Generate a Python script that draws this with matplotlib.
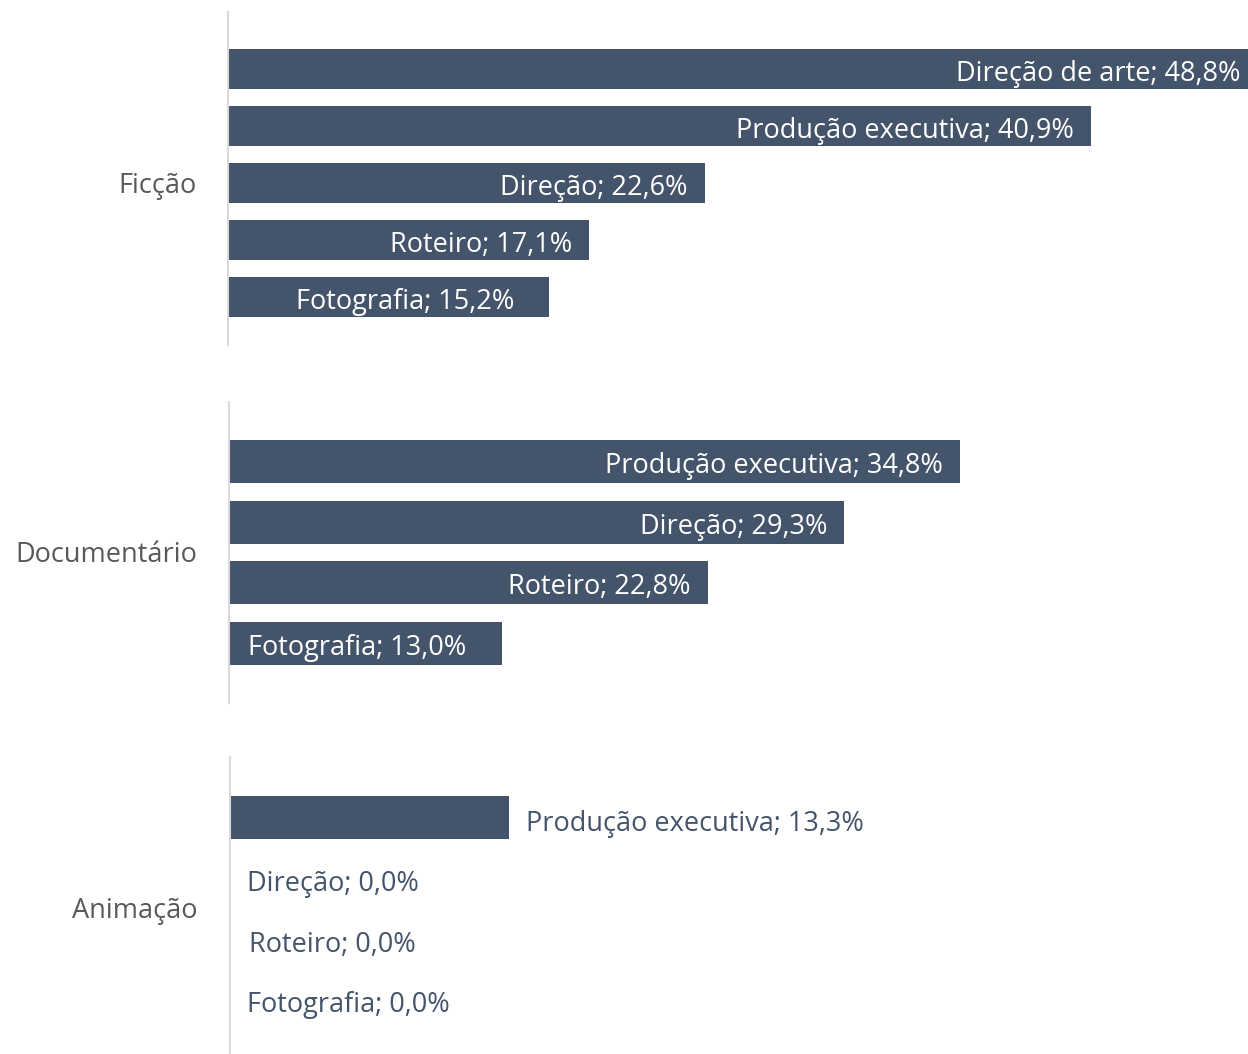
import matplotlib
matplotlib.use("Agg")
import matplotlib.pyplot as plt

plt.rcParams['font.family'] = ['Open Sans', 'DejaVu Sans']

groups = ["Ficção", "Documentário", "Animação"]
roles = [
    ["Direção de arte", "Produção executiva", "Direção", "Roteiro", "Fotografia"],
    ["Produção executiva", "Direção", "Roteiro", "Fotografia"],
    ["Produção executiva", "Direção", "Roteiro", "Fotografia"],
]
values = [
    [48.8, 40.9, 22.6, 17.1, 15.2],
    [34.8, 29.3, 22.8, 13.0],
    [13.3, 0.0, 0.0, 0.0],
]

W, H = 1248, 1054
DPI = 100
BAR = "#44546A"
CAT = "#595959"
SPINE = "#D9D9D9"
FS = 19.5

# pixel layout: (left, top, bottom, spacing, bar height px, top margin px, px per %)
layout = [
    (228, 12, 345, 57.0, 40, 57.0, 21.1),
    (229, 402, 703, 60.5, 43, 59.5, 21.0),
    (230, 757, 1053, 60.5, 43, 60.5, 21.0),
]
# gap between bar end and label (pixels), per label
gaps = [
    [17, 17, 17, 17, 34],
    [17, 17, 17, 36],
    [17, 17, 19, 17],
]
inside = [True, True, False]

fig = plt.figure(figsize=(W / DPI, H / DPI), dpi=DPI)
for name, labs, vals, (left, top, bot, sp, bh, tm, ppp), gp, ins in zip(
        groups, roles, values, layout, gaps, inside):
    width_px = W - left
    ax = fig.add_axes([left / W, 1 - bot / H, width_px / W, (bot - top) / H])
    n = len(vals)
    ymin = -tm / sp
    ymax = ymin + (bot - top) / sp
    ax.set_ylim(ymax, ymin)
    ax.set_xlim(0, width_px / ppp)
    ypos = list(range(n))
    ax.barh(ypos, vals, height=bh / sp, color=BAR, clip_on=True)
    for y, l, v, g in zip(ypos, labs, vals, gp):
        txt = f"{l}; {v:.1f}%".replace(".", ",")
        if ins:
            ax.annotate(txt, (v, y), xytext=(-g, -5), textcoords="offset pixels",
                        ha="right", va="center", color="white", fontsize=FS,
                        annotation_clip=False)
        else:
            ax.annotate(txt, (v, y), xytext=(g, -6), textcoords="offset pixels",
                        ha="left", va="center", color=BAR, fontsize=FS,
                        annotation_clip=False)
    for s in ["top", "right", "bottom"]:
        ax.spines[s].set_visible(False)
    ax.spines["left"].set_color(SPINE)
    ax.spines["left"].set_linewidth(1.5)
    ax.set_xticks([])
    ax.set_yticks([])
    centre_px = top + tm + (n - 1) * sp / 2 + 3
    fig.text(197 / W, 1 - centre_px / H, name, ha="right", va="center",
             color=CAT, fontsize=FS)

fig.savefig("out.png", dpi=DPI)
